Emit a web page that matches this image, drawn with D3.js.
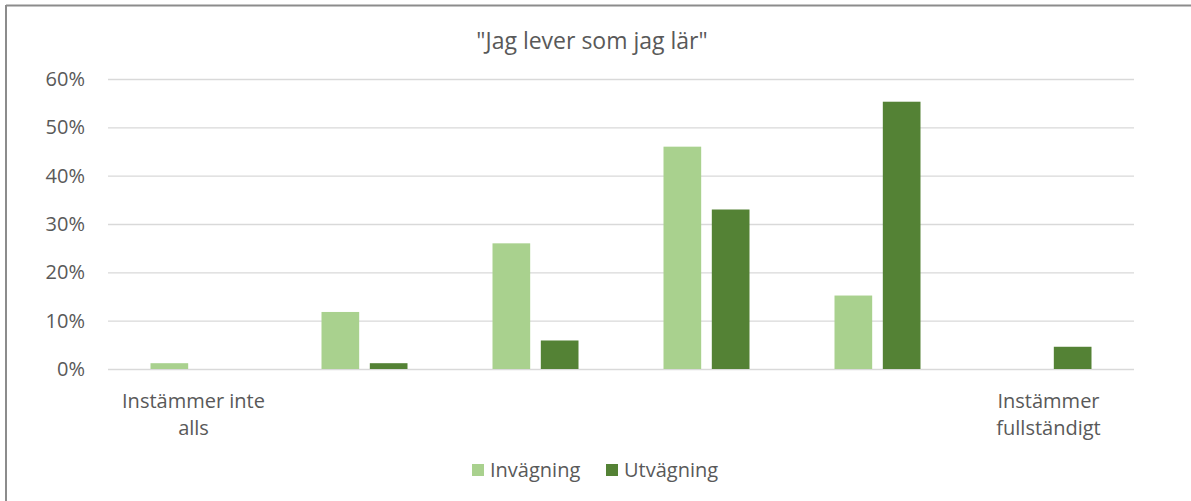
<!DOCTYPE html>
<html lang="sv">
<head>
<meta charset="UTF-8">
<title>Jag lever som jag lär</title>
<style>
  body { margin: 0; background: #fff; }
  text { font-family: "Open Sans", "Noto Sans", sans-serif; fill: #595959; }
</style>
</head>
<body>
<svg id="chart" width="1191" height="501"></svg>
<script src="https://cdn.jsdelivr.net/npm/d3@7/dist/d3.min.js"></script>
<script>
  // data
  const categories = ["1", "2", "3", "4", "5", "6"]
  const categoryLabels = [["Instämmer inte", "alls"], [], [], [], [], ["Instämmer", "fullständigt"]]
  const seriesNames = ["Invägning", "Utvägning"]
  const invagning = [0.012, 0.118, 0.26, 0.46, 0.152, 0]
  const utvagning = [0, 0.012, 0.059, 0.33, 0.553, 0.046]
  const yTicks = [0, 0.1, 0.2, 0.3, 0.4, 0.5, 0.6]
  const colors = ["#a9d18e", "#548235"]

  const svg = d3.select("#chart")
  const plot = { left: 108, right: 1134, top: 79, bottom: 369 }

  // frame lines (top and left only visible)
  svg.append("line").attr("x1", 6).attr("x2", 1191).attr("y1", 5.5).attr("y2", 5.5)
      .attr("stroke", "#8c8c8c").attr("stroke-width", 2)
  svg.append("line").attr("x1", 6).attr("x2", 6).attr("y1", 5).attr("y2", 501)
      .attr("stroke", "#8c8c8c").attr("stroke-width", 2)

  const x = d3.scaleBand().domain(categories).range([plot.left, plot.right])
  const inner = d3.scaleBand().domain(seriesNames)
      .range([0, 86]).paddingInner(0.22)
  const y = d3.scaleLinear().domain([0, 0.6]).range([plot.bottom, plot.top])

  // gridlines + y labels
  const yAxis = d3.axisLeft(y).tickValues(yTicks)
      .tickFormat(d3.format(".0%"))
      .tickSize(-(plot.right - plot.left)).tickPadding(23)
  const ga = svg.append("g").attr("transform", `translate(${plot.left},0)`).call(yAxis)
  ga.select(".domain").remove()
  ga.selectAll(".tick line").attr("stroke", "#d9d9d9").attr("stroke-width", 1.3)
  ga.selectAll(".tick text").style("font-size", "20px").attr("fill", "#595959")
      .style("font-family", "'Open Sans', 'Noto Sans', sans-serif")

  const rows = categories.map((c, i) => ({ cat: c, values: [invagning[i], utvagning[i]] }))

  const groups = svg.append("g").selectAll("g").data(rows).join("g")
      .attr("transform", d => `translate(${x(d.cat) + (x.bandwidth() - 86) / 2},0)`)

  groups.selectAll("rect")
      .data(d => d.values.map((v, k) => ({ name: seriesNames[k], v: v, k: k })).filter(e => e.v > 0))
      .join("rect")
      .attr("x", d => inner(d.name))
      .attr("width", inner.bandwidth())
      .attr("y", d => y(d.v))
      .attr("height", d => y(0) - y(d.v))
      .attr("fill", d => colors[d.k])

  // category labels
  svg.append("g").selectAll("text").data(categories).join("text")
      .attr("x", d => x(d) + x.bandwidth() / 2)
      .attr("y", 408)
      .attr("text-anchor", "middle")
      .style("font-size", "20px")
      .each(function (d, i) {
        d3.select(this).selectAll("tspan").data(categoryLabels[i]).join("tspan")
            .attr("x", x(d) + x.bandwidth() / 2)
            .attr("dy", (t, j) => j === 0 ? 0 : 27)
            .text(t => t)
      })

  // title
  svg.append("text").attr("x", 592).attr("y", 49).attr("text-anchor", "middle")
      .style("font-size", "23px").text('"Jag lever som jag lär"')

  // legend
  const legendX = [472, 606]
  const legend = svg.append("g").selectAll("g").data(seriesNames).join("g")
      .attr("transform", (d, i) => `translate(${legendX[i]},464)`)
  legend.append("rect").attr("width", 12).attr("height", 12).attr("fill", (d, i) => colors[i])
  legend.append("text").attr("x", 18).attr("y", 13).style("font-size", "20px").text(d => d)
</script>
</body>
</html>
